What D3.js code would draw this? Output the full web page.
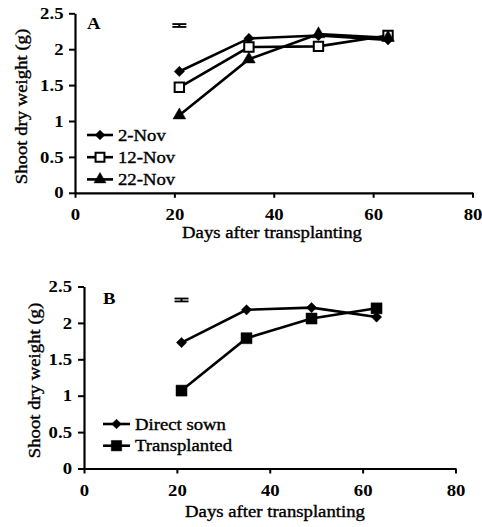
<!DOCTYPE html>
<html>
<head>
<meta charset="utf-8">
<script src="https://d3js.org/d3.v7.min.js"></script>
<style>
  body { margin: 0; background: #fff; }
  svg { display: block; }
  text { font-family: "Liberation Serif", "Times New Roman", serif; fill: #000; }
</style>
</head>
<body>
<svg id="chart" width="482" height="527"></svg>
<script>
// data
const days = [21, 35, 49, 63];

// panel A: sowing dates
const nov2 = [1.69, 2.15, 2.19, 2.13];
const nov12 = [1.47, 2.03, 2.04, 2.19];
const nov22 = [1.08, 1.86, 2.21, 2.16];

// panel B: establishment method
const directSown = [1.73, 2.18, 2.21, 2.08];
const transplanted = [1.07, 1.79, 2.06, 2.20];

// LSD bars (at day 21)
const lsdA = [2.31, 2.35];
const lsdB = [2.295, 2.335];

const xTicks = [0, 20, 40, 60, 80];
const yTicks = [0, 0.5, 1, 1.5, 2, 2.5];

const SX = 1.17;  // glyphs in the figure are wider than Times
const svg = d3.select("#chart");

function label(g, x, y, str, anchor, size, weight, rot) {
    return g.append("text")
        .attr("transform", `translate(${x},${y})` + (rot ? " rotate(-90)" : "") + ` scale(${SX},1)`)
        .attr("text-anchor", anchor || "start")
        .attr("font-size", size || 16)
        .attr("font-weight", weight || "normal")
        .attr("stroke", "#000")
        .attr("stroke-width", weight === "bold" ? 0 : 0.35)
        .text(str);
}

const shapes = {
    diamond: { sym: d3.symbolSquare, size: 52, rot: 45, fill: "#000" },
    openSquare: { sym: d3.symbolSquare, size: 88, rot: 0, fill: "#fff" },
    triangle: { sym: d3.symbolTriangle, size: 70, rot: 0, fill: "#000" },
    square: { sym: d3.symbolSquare, size: 121, rot: 0, fill: "#000" }
};

function marker(g, x, y, kind, scale) {
    const s = shapes[kind];
    g.append("path")
        .attr("d", d3.symbol(s.sym, s.size * (scale || 1))())
        .attr("transform", `translate(${x},${y}) rotate(${s.rot})`)
        .attr("fill", s.fill)
        .attr("stroke", "#000")
        .attr("stroke-width", kind === "openSquare" ? 2 : 0.5);
}

function drawPanel(p) {
    const g = svg.append("g");
    const x = d3.scaleLinear().domain([0, 80]).range([p.x0, p.x1]);
    const y = d3.scaleLinear().domain([0, 2.5]).range([p.y0, p.y1]);

    const xAxis = g.append("g")
        .attr("transform", `translate(0,${p.y0})`)
        .call(d3.axisBottom(x).tickValues(xTicks).tickSize(5).tickSizeOuter(0).tickPadding(p.xPad));
    const yAxis = g.append("g")
        .attr("transform", `translate(${p.x0},0)`)
        .call(d3.axisLeft(y).tickValues(yTicks).tickFormat(d3.format("")).tickSize(6).tickSizeOuter(0));

    [xAxis, yAxis].forEach(a => {
        a.select(".domain").attr("stroke-width", 2.2);
        a.selectAll(".tick line").attr("stroke-width", 2);
        a.selectAll(".tick text")
            .attr("font-family", "Liberation Serif, serif")
            .attr("font-size", 16)
            .attr("font-weight", "bold");
    });
    xAxis.selectAll(".tick text").attr("transform", `scale(${SX},1)`);
    yAxis.selectAll(".tick text")
        .attr("x", -p.yLabGap / SX)
        .attr("transform", `scale(${SX},1)`);

    // lines + markers
    p.series.forEach(s => {
        g.append("path")
            .datum(s.values)
            .attr("fill", "none")
            .attr("stroke", "#000")
            .attr("stroke-width", 2.6)
            .attr("d", d3.line().x((d, i) => x(days[i])).y(d => y(d)));
    });
    p.series.forEach(s => {
        s.values.forEach((v, i) => marker(g, x(days[i]), y(v), s.shape));
    });

    // LSD bar
    const lx = x(days[0]);
    g.append("line").attr("x1", lx).attr("x2", lx)
        .attr("y1", y(p.lsd[0])).attr("y2", y(p.lsd[1]))
        .attr("stroke", "#000").attr("stroke-width", 2);
    p.lsd.forEach(v => {
        g.append("line").attr("x1", lx - 7).attr("x2", lx + 7)
            .attr("y1", y(v)).attr("y2", y(v))
            .attr("stroke", "#000").attr("stroke-width", 1.8);
    });

    // legend
    p.series.forEach((s, i) => {
        const ly = p.legY + i * p.legStep;
        g.append("line").attr("x1", p.legX).attr("x2", p.legX + p.legLen)
            .attr("y1", ly).attr("y2", ly)
            .attr("stroke", "#000").attr("stroke-width", 2.6);
        marker(g, p.legX + p.legLen / 2, ly, s.shape, 0.9);
        label(g, p.legX + p.legLen + 5, ly + 5.5, s.name, "start", 16);
    });

    label(g, p.tagX, p.tagY, p.tag, "start", 16, "bold");
    label(g, p.xTitleX, p.xTitleY, "Days after transplanting", "middle", 16);
    label(g, p.yTitleX, p.yTitleY, "Shoot dry weight (g)", "middle", 16, "normal", true);
}

drawPanel({
    x0: 75, x1: 472.5, y0: 192.8, y1: 13.3, xPad: 11, yLabGap: 11.5,
    series: [
        { name: "2-Nov", values: nov2, shape: "diamond" },
        { name: "12-Nov", values: nov12, shape: "openSquare" },
        { name: "22-Nov", values: nov22, shape: "triangle" }
    ],
    lsd: lsdA,
    legX: 87, legY: 135, legStep: 22.2, legLen: 26,
    tag: "A", tagX: 87, tagY: 29,
    xTitleX: 272, xTitleY: 237.7,
    yTitleX: 27, yTitleY: 106.5
});

drawPanel({
    x0: 84, x1: 455.5, y0: 468.5, y1: 286.5, xPad: 11, yLabGap: 12,
    series: [
        { name: "Direct sown", values: directSown, shape: "diamond" },
        { name: "Transplanted", values: transplanted, shape: "square" }
    ],
    lsd: lsdB,
    legX: 103, legY: 424, legStep: 21.7, legLen: 27,
    tag: "B", tagX: 103, tagY: 304,
    xTitleX: 275, xTitleY: 516.7,
    yTitleX: 40, yTitleY: 380.5
});
</script>
</body>
</html>
